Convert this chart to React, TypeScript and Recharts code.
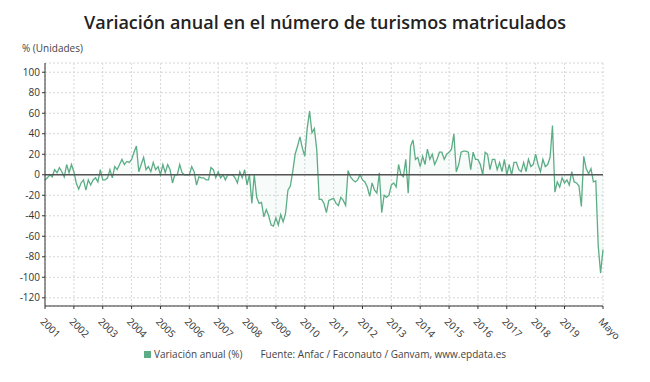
import React from 'react';
import {
  ComposedChart, Area, XAxis, YAxis, CartesianGrid, ReferenceLine,
} from 'recharts';

// Variación anual (%) mensual, enero 2001 - mayo 2020
const y2001 = [-5, -3, 0, -2, 5, 2, 7, 3, -2, 10, 2, 10];
const y2002 = [3, -8, -14, -8, -5, -15, -5, -10, -5, -3, -7, 5];
const y2003 = [-5, -5, -3, 5, -3, 8, 5, 10, 15, 10, 13, 12];
const y2004 = [15, 22, 28, 3, 10, 17, 5, 8, 3, 12, 5, 8];
const y2005 = [0, 10, 2, 10, 5, -8, 0, 0, 10, 2, 0, 0];
const y2006 = [0, 8, 3, -10, -2, -3, -3, -5, -5, 7, 5, -3];
const y2007 = [3, -3, 0, -5, 0, 0, 0, -3, -8, 3, -3, 5];
const y2008 = [-10, 0, -28, 0, -22, -28, -27, -41, -34, -40, -49, -50];
const y2009 = [-42, -49, -39, -46, -38, -15, -11, 3, 20, 28, 37, 26];
const y2010 = [18, 45, 62, 41, 45, 24, -24, -24, -28, -37, -25, -24];
const y2011 = [-23, -28, -30, -22, -25, -30, 4, -2, -5, -7, -5, 0];
const y2012 = [-5, -7, -12, -21, -8, -15, -18, 2, -37, -20, -22, -20];
const y2013 = [-10, -8, -12, 10, 0, -2, 15, -18, 28, 34, 15, 17];
const y2014 = [8, 18, 10, 25, 15, 20, 10, 15, 22, 22, 15, 20];
const y2015 = [22, 25, 40, 3, 10, 22, 23, 23, 22, 5, 22, 15];
const y2016 = [15, 10, 0, 22, 20, 5, 15, 15, 5, 12, 3, 15];
const y2017 = [0, 10, 0, 12, 12, 5, 3, 12, 3, 15, 8, 10];
const y2018 = [20, 10, 3, 15, 8, 10, 17, 48, -17, -7, -12, -3];
const y2019 = [-8, -5, -10, 3, -7, -8, -11, -31, 18, 6, 1, 6];
const y2020 = [-7, -6, -69, -96, -73];

const years = [
  y2001, y2002, y2003, y2004, y2005, y2006, y2007, y2008, y2009, y2010,
  y2011, y2012, y2013, y2014, y2015, y2016, y2017, y2018, y2019, y2020,
];

const tickLabels = [
  '2001', '2002', '2003', '2004', '2005', '2006', '2007', '2008', '2009', '2010',
  '2011', '2012', '2013', '2014', '2015', '2016', '2017', '2018', '2019', 'Mayo',
];

const yTicks = [-120, -100, -80, -60, -40, -20, 0, 20, 40, 60, 80, 100];

const values = years.flat();
const data = values.map((v, i) => ({ i, v }));
const lastIndex = values.length - 1;
const xTicks = tickLabels.map((_, k) => (k < tickLabels.length - 1 ? k * 12 : lastIndex));

const GREEN = '#5cad86';
const FONT = '"Open Sans", "Noto Sans", sans-serif';

const XTick = (props: any) => {
  const { x, y, payload } = props;
  const k = xTicks.indexOf(payload.value);
  return (
    <text
      x={x + 1}
      y={y + 5}
      transform={`rotate(45, ${x + 1}, ${y + 5})`}
      fontSize={10}
      fill="#333"
      fontFamily={FONT}
      textAnchor="start"
      dominantBaseline="hanging"
    >
      {tickLabels[k]}
    </text>
  );
};

const App = () => {
  return (
    <div style={{ position: 'absolute', left: 0, top: 0, width: 650, height: 382, background: '#fff', fontFamily: FONT }}>
      <div style={{ position: 'absolute', top: 10, left: 0, width: 650, textAlign: 'center', fontSize: 18, fontWeight: 600, color: '#222' }}>
        Variación anual en el número de turismos matriculados
      </div>
      <div style={{ position: 'absolute', top: 41, left: 22, fontSize: 10, color: '#444' }}>
        % (Unidades)
      </div>
      <ComposedChart
        width={650}
        height={382}
        data={data}
        margin={{ top: 63, right: 47, bottom: 36, left: 0 }}
      >
        <CartesianGrid stroke="#d6d6d6" strokeDasharray="2 2" horizontal vertical />
        <XAxis
          dataKey="i"
          type="number"
          domain={[0, lastIndex]}
          ticks={xTicks}
          interval={0}
          tick={<XTick />}
          tickSize={3}
          axisLine={{ stroke: '#333' }}
          tickLine={{ stroke: '#333' }}
          height={40}
        />
        <YAxis
          type="number"
          domain={[-128, 109]}
          ticks={yTicks}
          interval={0}
          width={45}
          tickSize={3}
          tick={{ fontSize: 10, fill: '#333', fontFamily: FONT }}
          axisLine={{ stroke: '#333' }}
          tickLine={{ stroke: '#333' }}
        />
        <ReferenceLine y={0} stroke="#555" strokeWidth={1.5} />
        <Area
          type="linear"
          dataKey="v"
          stroke={GREEN}
          strokeWidth={1.3}
          fill={GREEN}
          fillOpacity={0.05}
          baseValue={0}
          dot={false}
          activeDot={false}
          isAnimationActive={false}
        />
      </ComposedChart>
      <div style={{ position: 'absolute', top: 347, left: 0, width: 650, display: 'flex', justifyContent: 'center', fontSize: 10, color: '#444' }}>
        <span style={{ display: 'inline-flex', alignItems: 'center' }}>
          <span style={{ width: 7, height: 7, background: GREEN, display: 'inline-block', marginRight: 3 }} />
          Variación anual (%)
        </span>
        <span style={{ marginLeft: 18 }}>Fuente: Anfac / Faconauto / Ganvam, www.epdata.es</span>
      </div>
    </div>
  );
};

export default App;
